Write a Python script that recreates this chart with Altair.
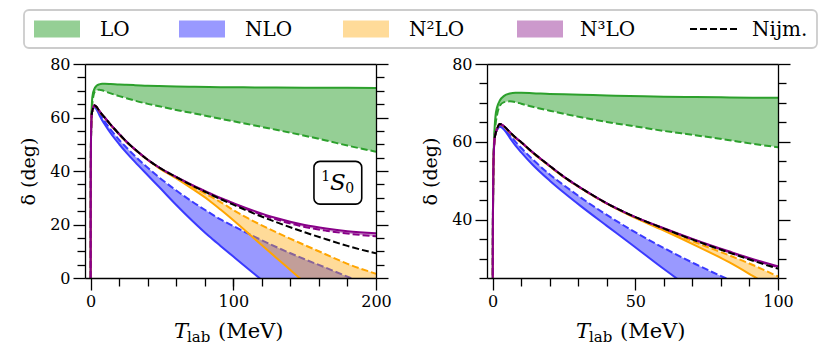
import altair as alt
import pandas as pd

# ---------------- data ----------------
T = [0, 0.02, 0.08, 0.2, 0.4, 0.7, 1, 1.5, 2.5, 4, 6, 8, 10, 14, 20, 25, 31, 40, 48,
     60, 71, 83, 91, 100, 115, 130, 150, 165, 180, 200]

LO_SOLID = [0, 22, 40, 52, 59, 64, 66.8, 68.8, 70.6, 71.8, 72.4, 72.6, 72.6, 72.5, 72.3,
            72.2, 72.1, 71.9, 71.8, 71.6, 71.5, 71.4, 71.35, 71.3, 71.25, 71.2, 71.15, 71.1, 71.1, 71.05]
LO_DASHED = [0, 22, 40, 51, 57.5, 62, 64.5, 66.8, 69.3, 70.2, 70.4, 70.2, 69.8, 69.0, 68.0,
             67.2, 66.3, 65.1, 64.2, 62.8, 61.7, 60.4, 59.5, 58.6, 57.0, 55.4, 53.2, 51.4, 49.5, 47.2]

NLO_SOLID = [0, 22, 40, 51.5, 57.5, 61, 62.1, 63.0, 63.9, 63.1, 61.0, 59.0, 57.3, 54.1, 50.0,
             46.9, 43.4, 38.4, 34.0, 27.3, 21.5, 15.6, 12.0, 8.0, 1.4, -5.0, -13.5, -20, -26, -35]
NLO_DASHED = [0, 22, 40, 51.5, 57.5, 61, 62.1, 63.1, 64.2, 63.6, 61.8, 60.0, 58.4, 55.5, 51.6,
              48.8, 45.6, 41.2, 37.6, 32.7, 28.6, 24.5, 21.9, 19.4, 15.4, 11.6, 7.0, 3.8, 0.5, -3.5]

N2LO_SOLID = [0, 22, 40, 51.5, 57.5, 61.0, 62.1, 63.3, 64.5, 63.9, 62.4, 61.0, 59.8, 57.2, 53.7,
              50.9, 48.0, 44.1, 41.1, 37.2, 33.4, 29.0, 25.6, 21.6, 14.6, 7.6, -1.7, -8.5, -15, -24]
N2LO_DASHED = [0, 22, 40, 51.5, 57.5, 61.0, 62.1, 63.3, 64.5, 63.9, 62.4, 61.0, 59.8, 57.2, 53.7,
               50.9, 48.0, 44.1, 41.2, 37.5, 34.2, 30.8, 28.4, 25.4, 21.0, 17.1, 12.3, 8.8, 5.3, 1.6]

N3LO_SOLID = [0, 22, 40, 51.5, 57.5, 61.0, 62.1, 63.3, 64.6, 64.0, 62.5, 61.1, 59.9, 57.3, 53.8,
              51.0, 48.1, 44.2, 41.3, 37.8, 34.8, 31.8, 29.9, 28.0, 25.0, 22.4, 19.8, 18.5, 17.5, 16.7]
N3LO_DASHED = [0, 22, 40, 51.5, 57.5, 61.0, 62.1, 63.3, 64.6, 64.0, 62.5, 61.1, 59.9, 57.3, 53.8,
               51.0, 48.1, 44.2, 41.3, 37.7, 34.7, 31.6, 29.7, 27.8, 24.6, 21.9, 19.1, 17.7, 16.6, 15.6]

NIJM_T = [0.7, 1, 1.5, 2.5, 4, 6, 8, 10, 14, 20, 25, 31, 40, 48, 60, 71, 83, 91, 100,
          115, 130, 150, 165, 180, 200]
NIJM = [61.0, 62.1, 63.3, 64.6, 64.0, 62.5, 61.1, 59.9, 57.3, 53.8, 51.0, 48.1, 44.2, 41.3,
        37.7, 34.6, 31.5, 29.5, 27.4, 24.0, 20.9, 17.1, 14.5, 12.0, 9.2]

ORDER_NAMES = ["LO", "NLO", "N²LO", "N³LO"]
ORDER_SOLID = [LO_SOLID, NLO_SOLID, N2LO_SOLID, N3LO_SOLID]
ORDER_DASHED = [LO_DASHED, NLO_DASHED, N2LO_DASHED, N3LO_DASHED]
LEGEND_LABELS = ["LO", "NLO", "N²LO", "N³LO", "Nijm."]

# ---------------- style ----------------
LINE_COL = ["#2ca02c", "#3a3aff", "#ffa500", "#880088"]
FILL_COL = ["#2ca02c", "#0000ff", "#ffa500", "#800080"]
FILL_OP = [0.5, 0.4, 0.4, 0.4]
FONT = "DejaVu Serif"
W, H = 291, 214
DASH = [7, 3]
LW = 2


def axis_set(kind, values=None):
    common = dict(zindex=1, grid=False, title=None, tickColor="black", domainColor="black",
                  tickWidth=1.3, domainWidth=1.3)
    if kind == "xmaj":
        return alt.Axis(orient="bottom", values=values, tickSize=12, labelPadding=3,
                        labelFlush=False, labelOverlap=False, labelFont=FONT, labelFontSize=16,
                        labelColor="black", format="d", **common)
    if kind == "xmin":
        return alt.Axis(orient="bottom", values=values, tickSize=8, labels=False, domain=False, **common)
    if kind == "xtop":
        return alt.Axis(orient="top", ticks=False, labels=False, domain=True, **common)
    if kind == "ymaj":
        c = dict(common)
        c.pop("title")
        return alt.Axis(orient="left", values=values, tickSize=12, labelPadding=3,
                        labelOverlap=False, labelFont=FONT, labelFontSize=16, labelColor="black",
                        format="d", title="δ (deg)", titleFont=FONT, titleFontSize=19,
                        titleFontWeight="normal", titleColor="black", titlePadding=11, **c)
    if kind == "ymin":
        return alt.Axis(orient="left", values=values, tickSize=8, labels=False, domain=False, **common)
    if kind == "yrmaj":
        return alt.Axis(orient="right", values=values, tickSize=12, labels=False, domain=True, **common)
    if kind == "yrmin":
        return alt.Axis(orient="right", values=values, tickSize=8, labels=False, domain=False, **common)


def panel(xmax, ymin, xmajor, xminor, ymajor, yminor, with_label):
    xs = alt.Scale(domain=[-0.02 * xmax, xmax], nice=False, zero=False)
    ys = alt.Scale(domain=[ymin, 80], nice=False, zero=False)
    axes_plan = {
        (0, "area"): (axis_set("xmaj", xmajor), axis_set("ymaj", ymajor)),
        (0, "solid"): (axis_set("xmin", xminor), axis_set("ymin", yminor)),
        (0, "dashed"): (axis_set("xtop"), axis_set("yrmaj", ymajor)),
        (1, "area"): (None, axis_set("yrmin", yminor)),
    }
    layers = []
    for i, name in enumerate(ORDER_NAMES):
        df = pd.DataFrame({"T": T, "solid": ORDER_SOLID[i], "dashed": ORDER_DASHED[i]})
        base = alt.Chart(df)

        def xy(part, field):
            xa, ya = axes_plan.get((i, part), (None, None))
            return dict(x=alt.X("T:Q", scale=xs, axis=xa),
                        y=alt.Y(f"{field}:Q", scale=ys, axis=ya))

        layers.append(base.mark_area(clip=True, interpolate="monotone", color=FILL_COL[i],
                                     opacity=FILL_OP[i]).encode(y2="dashed:Q", **xy("area", "solid")))
        layers.append(base.mark_line(clip=True, interpolate="monotone", color=LINE_COL[i],
                                     strokeWidth=LW).encode(**xy("solid", "solid")))
        layers.append(base.mark_line(clip=True, interpolate="monotone", color=LINE_COL[i],
                                     strokeWidth=LW, strokeDash=DASH).encode(**xy("dashed", "dashed")))
    nijm = pd.DataFrame({"T": NIJM_T, "d": NIJM})
    layers.append(alt.Chart(nijm).mark_line(clip=True, interpolate="monotone", color="black",
                                            strokeWidth=LW, strokeDash=DASH).encode(
        x=alt.X("T:Q", scale=xs, axis=None), y=alt.Y("d:Q", scale=ys, axis=None)))

    if with_label:
        box = pd.DataFrame({"t0": [156.5], "t1": [190.0], "d0": [27.6], "d1": [43.6],
                            "t": [173.2], "d": [35.6]})
        bc = alt.Chart(box)
        layers.append(bc.mark_rect(fill="white", stroke="black", strokeWidth=1.6, cornerRadius=6).encode(
            x=alt.X("t0:Q", scale=xs, axis=None), x2="t1:Q",
            y=alt.Y("d0:Q", scale=ys, axis=None), y2="d1:Q"))
        for txt, dx, dy, size, style in [("1", -12, -6, 14, "normal"), ("S", 0, 0, 23, "italic"),
                                         ("0", 12, 6, 14, "normal")]:
            layers.append(bc.mark_text(text=txt, dx=dx, dy=dy, fontSize=size, fontStyle=style,
                                       font=FONT, color="black", baseline="middle", align="center").encode(
                x=alt.X("t:Q", scale=xs, axis=None), y=alt.Y("d:Q", scale=ys, axis=None)))

    one = alt.Data(values=[{}])
    for txt, px, dy, size, style in [("T", 89, 0, 21, "italic"), ("lab", 102, 4, 15, "normal"),
                                     ("(MeV)", 133, 0, 21, "normal")]:
        layers.append(alt.Chart(one).mark_text(text=txt, font=FONT, fontSize=size, fontStyle=style,
                                               color="black", align="left", baseline="alphabetic").encode(
            x=alt.value(px), y=alt.value(H + 60 + dy)))

    return alt.layer(*layers).properties(width=W, height=H).resolve_axis(
        x="independent", y="independent")


left = panel(200, 0, [0, 100, 200], list(range(20, 200, 20)), [0, 20, 40, 60, 80],
             [v for v in range(5, 80, 5) if v % 20 != 0], True)
right = panel(100, 25, [0, 50, 100], [v for v in range(10, 100, 10) if v != 50], [40, 60, 80],
              [v for v in range(25, 80, 5) if v % 20 != 0], False)

# ---------------- legend ----------------
one = alt.Data(values=[{}])
LEG_H = 38
SW_X = [-51, 94, 258, 432]
TX_X = [15, 160, 324, 495, 667]
leg = [alt.Chart(one).mark_rect(fill="white", stroke="#cccccc", strokeWidth=1.8, cornerRadius=5).encode(
    x=alt.value(-61), x2=alt.value(732), y=alt.value(0), y2=alt.value(LEG_H))]
for i in range(4):
    leg.append(alt.Chart(one).mark_rect(color=FILL_COL[i], opacity=FILL_OP[i]).encode(
        x=alt.value(SW_X[i]), x2=alt.value(SW_X[i] + 46), y=alt.value(10.5), y2=alt.value(27.5)))
leg.append(alt.Chart(one).mark_rule(color="black", strokeWidth=LW, strokeDash=DASH).encode(
    x=alt.value(605), x2=alt.value(652), y=alt.value(19)))
for i, lab in enumerate(LEGEND_LABELS):
    leg.append(alt.Chart(one).mark_text(text=lab, font=FONT, fontSize=20, color="black",
                                        align="left", baseline="middle").encode(
        x=alt.value(TX_X[i]), y=alt.value(19.5)))
legend = alt.layer(*leg).properties(width=693, height=LEG_H)

chart = alt.vconcat(
    legend,
    alt.hconcat(left, right, spacing=111, bounds="flush"),
    spacing=16, bounds="flush",
).properties(
    padding={"left": 11, "top": 0, "right": 0, "bottom": 0}
).configure_view(stroke="transparent")

chart.save("out.html", embed_options={"renderer": "svg", "actions": False})
